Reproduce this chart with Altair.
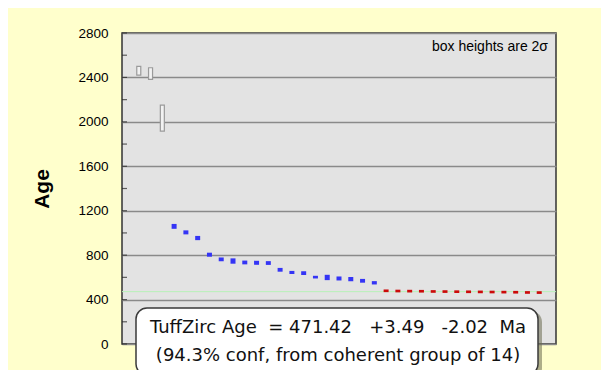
import altair as alt
import pandas as pd

# ---- data ----
idx = list(range(1, 36))
ages = [2460, 2435, 2034,
        1059, 1005, 954, 804, 762, 747, 734, 731, 729, 668, 644, 638, 602, 599, 590, 584, 569, 551,
        479, 477, 476, 475, 473, 472, 471, 470, 469, 468, 467, 466, 464, 463]
errs = [40, 52, 117,
        22, 18, 19, 18, 17, 24, 17, 18, 17, 17, 14, 17, 12, 24, 18, 19, 17, 15,
        12, 12, 12, 12, 12, 12, 12, 12, 12, 12, 12, 12, 12, 12]
groups = ["rejected"] * 3 + ["older"] * 18 + ["coherent"] * 14

tuff_age = 471.42
y_ticks = [0, 400, 800, 1200, 1600, 2000, 2400, 2800]
minor_ticks = list(range(0, 2801, 200))
NB = "\u00a0"
line1 = f"TuffZirc Age{NB}{NB}= 471.42{NB}{NB}{NB}+3.49{NB}{NB}{NB}-2.02{NB}{NB}Ma"
line2 = "(94.3% conf, from coherent group of 14)"
note = "box heights are 2σ"

df = pd.DataFrame({
    "idx": idx,
    "lo": [a - e for a, e in zip(ages, errs)],
    "hi": [a + e for a, e in zip(ages, errs)],
    "group": groups,
})

W, H = 434, 311
FONT = "Liberation Sans"

xs = alt.Scale(domain=[0, 36], nice=False, zero=False)
ys = alt.Scale(domain=[0, 2800], nice=False, zero=True)

base = alt.Chart(df)

frame = alt.Chart(pd.DataFrame({"v": y_ticks})).mark_rule(opacity=0).encode(
    y=alt.Y("v:Q", scale=ys, title="Age",
            axis=alt.Axis(values=y_ticks, format="d", ticks=False, domain=False, grid=True,
                          gridColor="#8a8a8a", gridWidth=1.3,
                          labelFont=FONT, labelFontSize=13.5, labelColor="#000",
                          labelPadding=14, titleFont=FONT, titleFontSize=21,
                          titleFontWeight="bold", titleColor="#000", titlePadding=25))
)

ticks = alt.Chart(pd.DataFrame({"v": minor_ticks})).mark_tick(
    orient="horizontal", size=5, thickness=1.2, color="#222"
).encode(y=alt.Y("v:Q", scale=ys), x=alt.value(2.5))

green = alt.Chart(pd.DataFrame({"v": [tuff_age]})).mark_rule(
    color="#b8f0b8", strokeWidth=1
).encode(y=alt.Y("v:Q", scale=ys))

gray = base.transform_filter(alt.datum.group == "rejected").mark_bar(
    size=4, fill="#f2f2f2", stroke="#9a9a9a", strokeWidth=1.2
).encode(x=alt.X("idx:Q", scale=xs, axis=None),
         y=alt.Y("lo:Q", scale=ys), y2="hi:Q")

blue = base.transform_filter(alt.datum.group == "older").mark_bar(
    size=5, color="#3535f5"
).encode(x=alt.X("idx:Q", scale=xs, axis=None),
         y=alt.Y("lo:Q", scale=ys), y2="hi:Q")

red = base.transform_filter(alt.datum.group == "coherent").mark_bar(
    size=5, color="#cc0a0a"
).encode(x=alt.X("idx:Q", scale=xs, axis=None),
         y=alt.Y("lo:Q", scale=ys), y2="hi:Q")

one = pd.DataFrame({"a": [0]})

note_txt = alt.Chart(one).mark_text(
    text=note, font=FONT, fontSize=14, align="right", baseline="middle", color="#000"
).encode(x=alt.value(W - 8), y=alt.value(14))

shadow = alt.Chart(one).mark_rect(
    cornerRadius=11, fill="#6b6b50", opacity=0.55
).encode(x=alt.value(17), x2=alt.value(420), y=alt.value(278), y2=alt.value(346))

box = alt.Chart(one).mark_rect(
    cornerRadius=11, fill="#ffffff", stroke="#3a3a3a", strokeWidth=1.5
).encode(x=alt.value(14), x2=alt.value(416), y=alt.value(275), y2=alt.value(342))

t1 = alt.Chart(one).mark_text(
    text=line1, font="DejaVu Sans", fontSize=18, align="center", baseline="middle", color="#111"
).encode(x=alt.value(216), y=alt.value(295))

t2 = alt.Chart(one).mark_text(
    text=line2, font="DejaVu Sans", fontSize=18, align="center", baseline="middle", color="#111"
).encode(x=alt.value(216), y=alt.value(323))

chart = alt.layer(frame, green, gray, blue, red, ticks, note_txt, shadow, box, t1, t2).properties(
    width=W, height=H,
    background="#FFFFCC",
    padding={"left": 114, "top": 25, "right": 45, "bottom": 26},
    autosize=alt.AutoSizeParams(type="none"),
).configure_view(
    fill="#e3e3e3", stroke="#333333", strokeWidth=1.5
)

chart.save("out.html", embed_options={"renderer": "svg", "actions": False})
